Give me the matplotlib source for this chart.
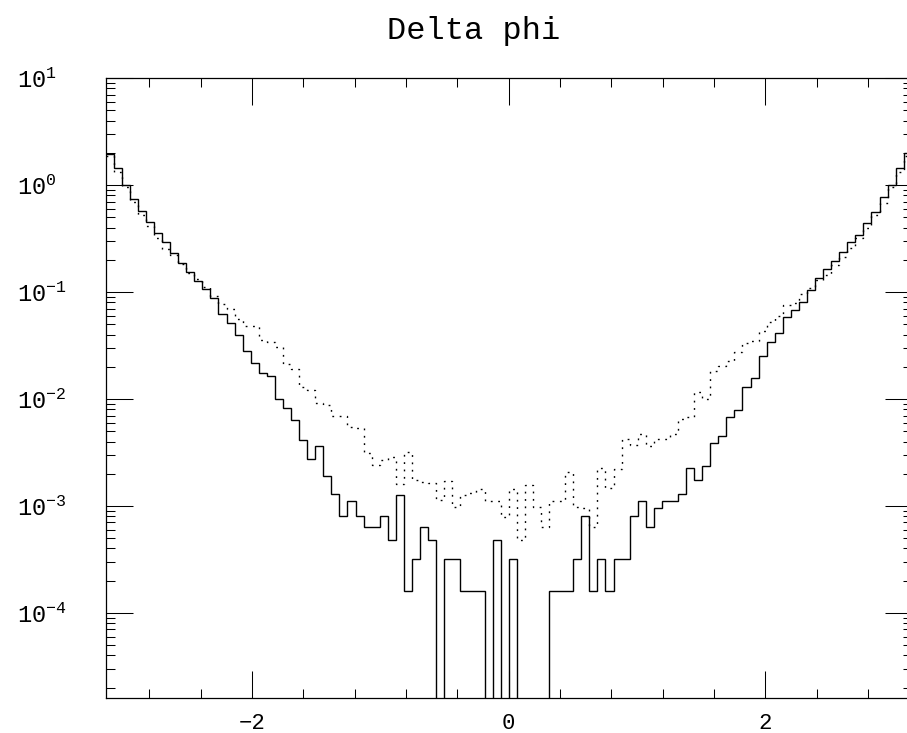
import numpy as np
import matplotlib.pyplot as plt
from matplotlib.ticker import FixedLocator, LogLocator, NullFormatter

plt.rcParams['font.family'] = ['Liberation Mono', 'DejaVu Sans']
plt.rcParams['mathtext.default'] = 'regular'

# 100 bins over [-pi, pi]
n_bins = 100

# solid histogram
solid = [
    1.95, 1.43, 1.0, 0.745, 0.571, 0.454, 0.353, 0.293, 0.233, 0.185,
    0.153, 0.126, 0.107, 0.087, 0.0627, 0.051, 0.040, 0.0279, 0.0216, 0.0175,
    0.0165, 0.0099, 0.0082, 0.00637, 0.00414, 0.00273, 0.00367, 0.0019, 0.00128, 0.0008,
    0.00112, 0.0008, 0.00064, 0.00064, 0.0008, 0.00048, 0.00127, 0.00016, 0.00032, 0.00064,
    0.00048, 0, 0.00032, 0.00032, 0.00016, 0.00016, 0.00016, 0, 0.00048, 0,
    0.00032, 0, 0, 0, 0, 0.00016, 0.00016, 0.00016, 0.00032, 0.0008,
    0.00016, 0.00032, 0.00016, 0.00032, 0.00032, 0.0008, 0.00112, 0.00064, 0.00095, 0.00112,
    0.00112, 0.00128, 0.00225, 0.00175, 0.00238, 0.00386, 0.00454, 0.00679, 0.00789, 0.0130,
    0.0158, 0.0251, 0.0343, 0.0417, 0.058, 0.0674, 0.080, 0.104, 0.134, 0.164,
    0.196, 0.238, 0.291, 0.339, 0.438, 0.563, 0.767, 1.0, 1.43, 1.98,
]

# dotted histogram
dotted = [
    1.88, 1.33, 0.96, 0.689, 0.525, 0.414, 0.32, 0.254, 0.222, 0.181,
    0.15, 0.131, 0.112, 0.092, 0.0775, 0.0695, 0.0556, 0.048, 0.048, 0.0352,
    0.034, 0.0308, 0.0213, 0.019, 0.013, 0.0121, 0.0091, 0.0088, 0.0069, 0.0069,
    0.0055, 0.0053, 0.0031, 0.00242, 0.0027, 0.00289, 0.0016, 0.00318, 0.00173, 0.00168,
    0.00165, 0.00114, 0.00172, 0.00098, 0.00127, 0.00132, 0.00145, 0.00112, 0.00111, 0.00079,
    0.00145, 0.00048, 0.00157, 0.00098, 0.00064, 0.00112, 0.00112, 0.00206, 0.00097, 0.00095,
    0.00064, 0.00225, 0.00146, 0.0022, 0.0042, 0.0037, 0.0047, 0.0036, 0.0042, 0.0042,
    0.0047, 0.0065, 0.0068, 0.0117, 0.0099, 0.0183, 0.0205, 0.0224, 0.0275, 0.0334,
    0.035, 0.043, 0.052, 0.059, 0.075, 0.078, 0.096, 0.108, 0.13, 0.145,
    0.18, 0.21, 0.26, 0.32, 0.40, 0.52, 0.68, 0.95, 1.33, 1.88,
]

y_ticks = [1e-4, 1e-3, 1e-2, 1e-1, 1, 10]
y_labels = [r'$10^{-4}$', r'$10^{-3}$', r'$10^{-2}$', r'$10^{-1}$', r'$10^{0}$', r'$10^{1}$']
x_ticks = [-2, 0, 2]
x_labels = ['\u22122', '0', '2']
x_minor = [-2.8, -2.4, -1.6, -1.2, -0.8, -0.4, 0.4, 0.8, 1.2, 1.6, 2.4, 2.8]

edges = np.linspace(-np.pi, np.pi, n_bins + 1)

fig = plt.figure(figsize=(9.07, 7.33), dpi=100)
# right edge of the frame runs slightly past the picture, as in the original
ax = fig.add_axes([0.1164, 0.0477, 0.8889, 0.8459])
ax.set_yscale('log', nonpositive='clip')

ax.stairs(solid, edges, baseline=None, color='black', lw=1.0)
ax.stairs(dotted, edges, baseline=None, color='black', lw=1.0,
          linestyle=(0, (1.3, 4.0)))

ax.set_xlim(-np.pi, np.pi)
ax.set_ylim(1.6e-5, 10)

ax.set_xticks(x_ticks)
ax.set_xticklabels(x_labels, fontsize=16)
ax.xaxis.set_minor_locator(FixedLocator(x_minor))
ax.set_yticks(y_ticks)
ax.set_yticklabels(y_labels, fontsize=17)
ax.yaxis.set_minor_locator(LogLocator(base=10, subs=range(2, 10)))
ax.yaxis.set_minor_formatter(NullFormatter())

ax.tick_params(which='both', direction='in', top=True, right=True, width=0.75)
ax.tick_params(which='major', length=19.5)
ax.tick_params(which='minor', length=6.5)
ax.tick_params(axis='x', pad=11)
ax.tick_params(axis='y', pad=63.5)
for lab in ax.get_yticklabels():
    lab.set_horizontalalignment('left')
    lab.set_verticalalignment('center_baseline')

for sp in ax.spines.values():
    sp.set_linewidth(0.9)

fig.text(0.5226, 0.9468, 'Delta phi', ha='center', va='baseline', fontsize=23)

fig.savefig('out.png', dpi=100)
